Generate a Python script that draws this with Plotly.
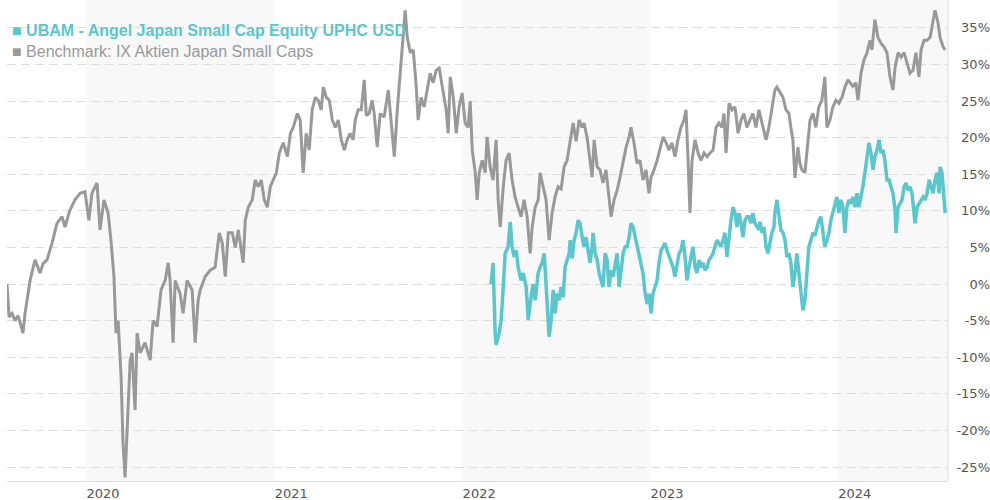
import plotly.graph_objects as go
import pandas as pd

# ---- data (decimal years, % performance) ----
bench_t = [2019.580, 2019.591, 2019.607, 2019.623, 2019.639, 2019.649, 2019.665, 2019.676, 2019.703, 2019.729,
           2019.756, 2019.772, 2019.793, 2019.820, 2019.846, 2019.873, 2019.889, 2019.915, 2019.942, 2019.969,
           2019.995, 2020.016, 2020.032, 2020.059, 2020.075, 2020.096, 2020.118, 2020.133, 2020.149, 2020.160,
           2020.171, 2020.187, 2020.197, 2020.208, 2020.219, 2020.235, 2020.245, 2020.261, 2020.272, 2020.288,
           2020.314, 2020.341, 2020.357, 2020.378, 2020.399, 2020.421, 2020.437, 2020.447, 2020.463, 2020.474,
           2020.500, 2020.516, 2020.537, 2020.564, 2020.580, 2020.596, 2020.607, 2020.633, 2020.660, 2020.686,
           2020.708, 2020.724, 2020.740, 2020.756, 2020.777, 2020.793, 2020.809, 2020.825, 2020.835, 2020.846,
           2020.862, 2020.883, 2020.899, 2020.915, 2020.931, 2020.947, 2020.963, 2020.979, 2020.995, 2021.011,
           2021.027, 2021.048, 2021.070, 2021.086, 2021.101, 2021.123, 2021.138, 2021.154, 2021.170, 2021.186,
           2021.202, 2021.218, 2021.234, 2021.250, 2021.261, 2021.277, 2021.293, 2021.309, 2021.325, 2021.341,
           2021.357, 2021.373, 2021.388, 2021.404, 2021.420, 2021.431, 2021.447, 2021.463, 2021.479, 2021.490,
           2021.505, 2021.521, 2021.532, 2021.548, 2021.564, 2021.585, 2021.607, 2021.623, 2021.639, 2021.655,
           2021.670, 2021.686, 2021.697, 2021.708, 2021.724, 2021.740, 2021.756, 2021.766, 2021.782, 2021.798,
           2021.814, 2021.830, 2021.846, 2021.862, 2021.878, 2021.889, 2021.899, 2021.915, 2021.926, 2021.937,
           2021.953, 2021.969, 2021.984, 2022.000, 2022.016, 2022.032, 2022.043, 2022.054, 2022.070, 2022.080,
           2022.091, 2022.107, 2022.123, 2022.133, 2022.149, 2022.165, 2022.181, 2022.192, 2022.203, 2022.219,
           2022.234, 2022.250, 2022.266, 2022.282, 2022.298, 2022.314, 2022.330, 2022.346, 2022.362, 2022.373,
           2022.389, 2022.405, 2022.415, 2022.431, 2022.447, 2022.463, 2022.479, 2022.495, 2022.511, 2022.527,
           2022.543, 2022.559, 2022.575, 2022.591, 2022.607, 2022.623, 2022.639, 2022.649, 2022.665, 2022.681,
           2022.692, 2022.703, 2022.719, 2022.734, 2022.750, 2022.766, 2022.782, 2022.793, 2022.809, 2022.825,
           2022.841, 2022.857, 2022.873, 2022.889, 2022.899, 2022.915, 2022.931, 2022.947, 2022.963, 2022.979,
           2022.995, 2023.006, 2023.022, 2023.038, 2023.054, 2023.070, 2023.086, 2023.102, 2023.117, 2023.133,
           2023.149, 2023.165, 2023.181, 2023.192, 2023.203, 2023.213, 2023.224, 2023.240, 2023.256, 2023.272,
           2023.288, 2023.304, 2023.320, 2023.336, 2023.352, 2023.367, 2023.383, 2023.394, 2023.405, 2023.421,
           2023.437, 2023.453, 2023.469, 2023.485, 2023.500, 2023.516, 2023.532, 2023.548, 2023.564, 2023.580,
           2023.602, 2023.618, 2023.633, 2023.649, 2023.665, 2023.676, 2023.692, 2023.708, 2023.724, 2023.740,
           2023.750, 2023.761, 2023.772, 2023.788, 2023.798, 2023.809, 2023.825, 2023.836, 2023.852, 2023.868,
           2023.883, 2023.899, 2023.915, 2023.931, 2023.942, 2023.958, 2023.974, 2023.990, 2024.006, 2024.022,
           2024.038, 2024.054, 2024.064, 2024.080, 2024.096, 2024.107, 2024.123, 2024.139, 2024.155, 2024.171,
           2024.181, 2024.197, 2024.213, 2024.229, 2024.245, 2024.261, 2024.277, 2024.293, 2024.304, 2024.320,
           2024.336, 2024.352, 2024.367, 2024.383, 2024.399, 2024.415, 2024.431, 2024.442, 2024.458, 2024.474,
           2024.490, 2024.506, 2024.516, 2024.532, 2024.543, 2024.559, 2024.570]
bench_v = [0.0, -4.5, -4.0, -5.0, -4.3, -5.3, -6.7, -4.0, 0.5, 3.3,
           1.5, 2.8, 3.3, 5.6, 8.3, 9.2, 7.8, 10.1, 11.5, 12.4,
           12.6, 8.7, 12.4, 13.8, 7.4, 11.5, 9.7, 6.0, 1.0, -6.7,
           -5.0, -12.7, -21.7, -26.4, -19.5, -10.4, -9.4, -17.2, -6.7, -9.4,
           -8.0, -10.4, -5.0, -5.8, -0.8, 0.5, 2.9, 0.5, -8.0, 0.5,
           -1.3, -4.0, 0.5, -0.8, -8.0, -2.2, -0.8, 1.0, 1.9, 2.3,
           7.0, 5.6, 1.0, 7.0, 7.0, 5.0, 7.4, 4.2, 2.9, 8.7,
           10.5, 11.5, 14.2, 13.3, 14.2, 11.5, 10.5, 13.3, 14.2, 15.2,
           17.9, 19.3, 17.4, 20.6, 21.4, 23.3, 22.4, 15.2, 20.6, 18.3,
           23.8, 25.5, 25.1, 23.8, 26.9, 25.5, 25.1, 22.4, 21.4, 22.4,
           19.7, 18.3, 19.7, 20.6, 19.7, 22.4, 23.8, 23.8, 27.9, 23.0,
           23.3, 25.1, 23.3, 18.7, 23.3, 22.8, 26.5, 22.4, 17.4, 23.8,
           28.3, 32.9, 37.4, 33.7, 31.6, 32.0, 26.9, 22.4, 25.5, 24.2,
           26.5, 28.8, 27.5, 29.2, 29.5, 27.9, 26.1, 23.8, 20.6, 28.3,
           25.5, 20.6, 24.2, 26.1, 22.0, 21.4, 25.0, 18.3, 15.2, 11.5,
           15.2, 16.9, 15.2, 20.1, 16.0, 14.2, 19.7, 11.5, 7.8, 13.3,
           16.9, 17.9, 14.2, 11.9, 10.5, 9.2, 11.5, 9.2, 4.2, 7.8,
           10.5, 11.5, 15.2, 13.3, 11.5, 6.0, 9.7, 11.9, 13.3, 13.0,
           16.0, 16.9, 19.5, 22.0, 19.5, 22.4, 21.4, 22.0, 20.1, 16.5,
           14.6, 19.7, 16.0, 15.6, 13.8, 15.6, 11.5, 9.2, 11.5, 12.8,
           14.6, 16.9, 18.7, 20.1, 21.4, 19.3, 16.5, 16.9, 14.2, 15.6,
           12.4, 14.6, 15.6, 16.9, 18.7, 20.1, 19.3, 18.3, 19.3, 17.4,
           19.7, 21.4, 22.4, 23.8, 16.9, 9.7, 16.9, 19.7, 17.9, 16.9,
           17.9, 17.4, 17.9, 18.3, 21.4, 22.0, 21.4, 23.3, 17.9, 24.7,
           23.8, 24.2, 20.6, 22.4, 23.3, 21.4, 22.4, 23.3, 21.4, 23.8,
           21.4, 19.7, 21.4, 23.8, 26.5, 26.9, 26.1, 25.5, 23.8, 23.3,
           21.4, 19.7, 14.5, 18.7, 16.5, 15.6, 15.2, 17.9, 22.4, 23.3,
           21.4, 24.2, 25.1, 28.3, 21.4, 22.4, 24.2, 25.1, 24.7, 25.5,
           26.9, 27.9, 27.5, 27.0, 27.5, 25.1, 28.8, 30.6, 31.6, 33.3,
           32.0, 36.1, 33.7, 32.9, 32.4, 31.6, 28.3, 26.5, 29.6, 31.6,
           31.0, 31.6, 30.2, 28.8, 29.2, 31.6, 28.3, 32.0, 33.3, 33.3,
           33.7, 36.1, 37.4, 35.7, 33.7, 32.4, 32.0]

fund_t = [2022.154, 2022.165, 2022.176, 2022.181, 2022.197, 2022.208, 2022.219, 2022.229, 2022.245, 2022.256,
          2022.266, 2022.277, 2022.288, 2022.298, 2022.314, 2022.325, 2022.341, 2022.352, 2022.367, 2022.378,
          2022.389, 2022.405, 2022.415, 2022.426, 2022.437, 2022.447, 2022.453, 2022.463, 2022.474, 2022.485,
          2022.495, 2022.506, 2022.516, 2022.527, 2022.538, 2022.548, 2022.559, 2022.570, 2022.575, 2022.586,
          2022.596, 2022.607, 2022.617, 2022.628, 2022.639, 2022.649, 2022.660, 2022.671, 2022.681, 2022.692,
          2022.697, 2022.708, 2022.719, 2022.729, 2022.740, 2022.750, 2022.761, 2022.772, 2022.782, 2022.793,
          2022.804, 2022.814, 2022.825, 2022.836, 2022.846, 2022.857, 2022.868, 2022.878, 2022.889, 2022.899,
          2022.910, 2022.921, 2022.931, 2022.942, 2022.953, 2022.963, 2022.974, 2022.985, 2022.995, 2023.006,
          2023.016, 2023.027, 2023.038, 2023.048, 2023.059, 2023.070, 2023.080, 2023.091, 2023.102, 2023.112,
          2023.123, 2023.133, 2023.144, 2023.155, 2023.165, 2023.176, 2023.187, 2023.197, 2023.208, 2023.219,
          2023.229, 2023.240, 2023.250, 2023.261, 2023.272, 2023.282, 2023.293, 2023.304, 2023.314, 2023.325,
          2023.336, 2023.346, 2023.357, 2023.367, 2023.378, 2023.389, 2023.399, 2023.410, 2023.421, 2023.431,
          2023.442, 2023.453, 2023.463, 2023.474, 2023.485, 2023.495, 2023.506, 2023.516, 2023.527, 2023.538,
          2023.548, 2023.559, 2023.570, 2023.580, 2023.586, 2023.596, 2023.607, 2023.618, 2023.628, 2023.639,
          2023.649, 2023.660, 2023.665, 2023.676, 2023.687, 2023.697, 2023.708, 2023.719, 2023.729, 2023.740,
          2023.750, 2023.761, 2023.772, 2023.782, 2023.793, 2023.804, 2023.814, 2023.825, 2023.836, 2023.846,
          2023.857, 2023.868, 2023.878, 2023.889, 2023.899, 2023.910, 2023.921, 2023.931, 2023.942, 2023.953,
          2023.963, 2023.974, 2023.985, 2023.995, 2024.006, 2024.016, 2024.027, 2024.038, 2024.048, 2024.059,
          2024.070, 2024.080, 2024.091, 2024.102, 2024.112, 2024.123, 2024.133, 2024.144, 2024.155, 2024.165,
          2024.176, 2024.187, 2024.197, 2024.208, 2024.219, 2024.229, 2024.240, 2024.250, 2024.261, 2024.272,
          2024.282, 2024.293, 2024.304, 2024.309, 2024.320, 2024.330, 2024.341, 2024.352, 2024.362, 2024.373,
          2024.383, 2024.394, 2024.405, 2024.410, 2024.421, 2024.431, 2024.442, 2024.453, 2024.463, 2024.474,
          2024.485, 2024.495, 2024.506, 2024.516, 2024.527, 2024.538, 2024.543, 2024.553, 2024.559, 2024.570]
fund_v = [0.0, 2.9, -6.7, -8.3, -6.7, -4.9, -0.4, 4.2, 5.1, 8.5,
          5.1, 3.7, 4.6, 2.3, 0.5, 1.5, -0.4, -4.9, -1.8, 0.0,
          -2.2, 1.5, 2.3, 2.9, 4.2, 0.0, -4.0, -7.2, -4.9, -0.8,
          -4.0, -1.3, -2.2, -0.4, -1.8, 2.3, 3.3, 4.2, 6.0, 3.5,
          6.0, 7.0, 8.7, 8.3, 6.4, 5.1, 6.4, 4.2, 2.9, 5.1,
          7.0, 4.2, 3.3, 1.5, 0.5, -0.4, 4.2, 3.3, -0.4, 1.9,
          1.0, 2.3, 4.2, -0.4, 2.3, 4.2, 5.1, 5.1, 6.4, 8.3,
          7.8, 6.4, 5.1, 4.2, 2.3, 1.5, -1.3, -2.7, -1.3, -4.0,
          -1.3, -0.4, 0.5, 2.9, 4.6, 5.1, 5.6, 4.6, 3.7, 2.9,
          2.3, 1.0, 2.9, 4.2, 4.6, 6.0, 3.7, 0.5, 2.3, 3.7,
          5.1, 2.3, 1.5, 3.3, 2.3, 2.9, 1.9, 2.3, 3.3, 3.7,
          4.2, 5.1, 6.0, 5.6, 5.1, 6.0, 7.0, 3.7, 7.0, 8.7,
          10.5, 9.7, 7.8, 9.7, 8.3, 6.4, 8.7, 9.2, 9.2, 8.3,
          9.7, 8.3, 7.8, 7.4, 8.5, 7.0, 7.8, 5.1, 4.2, 6.0,
          7.0, 7.8, 9.7, 11.5, 9.2, 7.4, 7.0, 6.0, 3.7, 4.2,
          2.9, -0.4, 1.5, 4.2, 1.5, -1.3, -3.6, -2.2, 2.3, 5.1,
          6.0, 7.0, 6.6, 7.8, 8.7, 9.2, 7.4, 5.1, 6.0, 7.0,
          8.7, 9.7, 11.0, 11.9, 9.7, 11.5, 10.5, 7.0, 10.5, 11.5,
          11.0, 11.9, 10.5, 12.4, 10.5, 11.9, 13.3, 15.2, 17.9, 19.3,
          17.9, 15.6, 17.4, 18.3, 19.7, 17.9, 18.3, 16.9, 14.2, 14.2,
          13.3, 12.4, 10.1, 7.0, 10.5, 11.0, 11.5, 13.3, 13.8, 12.8,
          13.3, 12.4, 10.1, 8.3, 10.5, 11.0, 11.5, 11.9, 11.5, 12.4,
          14.2, 13.3, 12.4, 14.2, 15.2, 12.4, 16.0, 15.2, 12.8, 9.7]

year_ticks = [2020, 2021, 2022, 2023, 2024]
shaded_years = [2020, 2022, 2024]
pct_ticks = [-25, -20, -15, -10, -5, 0, 5, 10, 15, 20, 25, 30, 35]

fund_name = "UBAM - Angel Japan Small Cap Equity UPHC USD"
bench_name = "Benchmark: IX Aktien Japan Small Caps"

TEAL = "#5cc6cd"
GREY = "#999999"


def to_dt(t):
    y = int(t)
    a = pd.Timestamp(year=y, month=1, day=1)
    b = pd.Timestamp(year=y + 1, month=1, day=1)
    return a + (b - a) * (t - y)


bench_x = [to_dt(t) for t in bench_t]
fund_x = [to_dt(t) for t in fund_t]

x_start = to_dt(2019.580)
x_end = to_dt(2024.585)

fig = go.Figure()
fig.add_trace(go.Scatter(x=bench_x, y=bench_v, mode="lines", name=bench_name,
                         line=dict(color=GREY, width=3), showlegend=False))
fig.add_trace(go.Scatter(x=fund_x, y=fund_v, mode="lines", name=fund_name,
                         line=dict(color=TEAL, width=3.5), showlegend=False))

shapes = []
for yr in shaded_years:
    x1 = pd.Timestamp(year=yr + 1, month=1, day=1)
    if x1 > x_end:
        x1 = x_end
    shapes.append(dict(type="rect", xref="x", yref="paper", x0=pd.Timestamp(year=yr, month=1, day=1), x1=x1,
                       y0=0, y1=1, fillcolor="#f8f8f8", line=dict(width=0), layer="below"))
shapes.append(dict(type="line", xref="x domain", yref="paper", x0=1, x1=1, y0=0, y1=1,
                   line=dict(color="#dddddd", width=1), layer="above"))

XDOM = (948 - 7) / (990 - 7)

fig.update_layout(
    width=990, height=500,
    margin=dict(l=7, r=0, t=0, b=19),
    paper_bgcolor="white", plot_bgcolor="white",
    showlegend=False,
    shapes=shapes,
    xaxis=dict(
        domain=[0, XDOM],
        type="date",
        range=[x_start, x_end],
        tickvals=[pd.Timestamp(year=y, month=1, day=1) for y in year_ticks],
        ticktext=[str(y) for y in year_ticks],
        ticklabelposition="outside right",
        ticks="",
        showgrid=False, zeroline=False,
        showline=True, linecolor="#dddddd", linewidth=1,
        tickfont=dict(family="DejaVu Sans", size=13, color="#555555"),
    ),
    yaxis=dict(
        range=[-26.9, 38.8],
        anchor="free", position=1.0, side="left",
        tickvals=pct_ticks,
        ticktext=[f"{v}%" for v in pct_ticks],
        ticks="",
        showgrid=True, gridcolor="#dedede", gridwidth=1, griddash="9px,5px",
        zeroline=False, showline=False,
        tickfont=dict(family="DejaVu Sans", size=13, color="#555555"),
    ),
    annotations=[
        dict(xref="paper", yref="paper", x=0.003, y=1 - 30 / 481, xanchor="left", yanchor="middle",
             text="<b>■ " + fund_name + "</b>", showarrow=False,
             font=dict(family="Liberation Sans, Arial", size=16, color=TEAL)),
        dict(xref="paper", yref="paper", x=0.003, y=1 - 51 / 481, xanchor="left", yanchor="middle",
             text="■ " + bench_name, showarrow=False,
             font=dict(family="Liberation Sans, Arial", size=16, color=GREY)),
    ],
)

fig.write_html("out.html",
               config={"displayModeBar": False},
               post_script="document.body.style.margin='0';document.body.style.overflow='hidden';")
